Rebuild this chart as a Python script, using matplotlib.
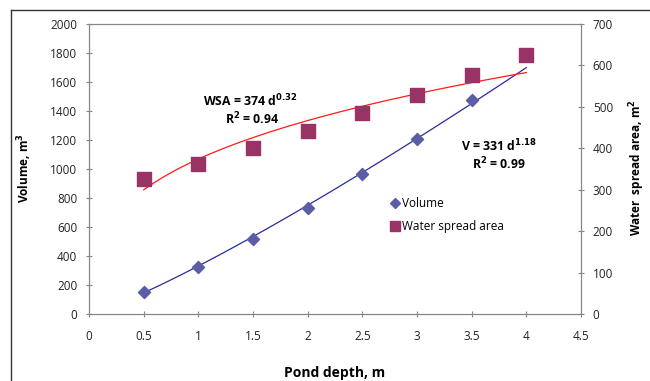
import numpy as np
import matplotlib
matplotlib.use('Agg')
import matplotlib.pyplot as plt
from matplotlib.lines import Line2D

depth_v = [0.5, 1, 1.5, 2, 2.5, 3, 3.5]
volume = [150, 322, 518, 730, 965, 1205, 1478]
depth_w = [0.5, 1, 1.5, 2, 2.5, 3, 3.5, 4]
wsa = [326, 362, 401, 442, 485, 529, 577, 625]

# fitted power curves shown on the chart
v_coef, v_exp = 331, 1.18
w_coef, w_exp = 374, 0.32

plt.rcParams['font.family'] = ['Open Sans', 'DejaVu Sans']
grey = '#868686'

fig = plt.figure(figsize=(6.5, 3.81), dpi=100)
ax = fig.add_axes([89/650, 67/381, 492/650, 290/381])
ax2 = ax.twinx()

d = np.linspace(0.5, 4, 100)
ax.plot(d, v_coef * d**v_exp, color='#2b2b9c', lw=0.9, zorder=2)
ax.scatter(depth_v, volume, marker='D', s=38, color='#5b5ea6', zorder=3)
ax2.plot(d, w_coef * d**w_exp, color='#ff1a1a', lw=0.9, zorder=2)
ax2.scatter(depth_w, wsa, marker='s', s=95, color='#993366', zorder=3)

ax.set_xlim(0, 4.5)
ax.set_ylim(0, 2000)
ax2.set_ylim(0, 700)
ax.set_xticks(np.arange(0, 4.51, 0.5))
ax.set_xticklabels(['0', '0.5', '1', '1.5', '2', '2.5', '3', '3.5', '4', '4.5'])
ax.set_yticks(range(0, 2001, 200))
ax2.set_yticks(range(0, 701, 100))

for a in (ax, ax2):
    for s in a.spines.values():
        s.set_color(grey)
    a.tick_params(direction='inout', length=5, color=grey, labelsize=8.5, labelcolor='#222222')
ax.tick_params(axis='x', pad=9)
ax.tick_params(axis='y', pad=6)
ax2.tick_params(axis='y', pad=6)

fig.text(25/650, 1 - 168/381, 'Volume, m$^{\\mathbf{3}}$', rotation=90, ha='center', va='center',
         fontsize=8.5, fontweight='bold')
fig.text(637/650, 1 - 168/381, 'Water  spread area, m$^{\\mathbf{2}}$', rotation=90, ha='center', va='center',
         fontsize=8.5, fontweight='bold')
fig.text(335/650, 1 - 373/381, 'Pond depth, m', ha='center', va='center', fontsize=10, fontweight='bold')

fig.text(250/650, 1 - 101/381, 'WSA = 374 d$^{\\mathbf{0.32}}$', ha='center', va='center', fontsize=8.8, fontweight='bold')
fig.text(252/650, 1 - 119/381, 'R$^{\\mathbf{2}}$ = 0.94', ha='center', va='center', fontsize=8.8, fontweight='bold')
fig.text(499/650, 1 - 146/381, 'V = 331 d$^{\\mathbf{1.18}}$', ha='center', va='center', fontsize=8.8, fontweight='bold')
fig.text(499/650, 1 - 164/381, 'R$^{\\mathbf{2}}$ = 0.99', ha='center', va='center', fontsize=8.8, fontweight='bold')

handles = [Line2D([], [], ls='none', marker='D', ms=5.5, color='#5b5ea6'),
           Line2D([], [], ls='none', marker='s', ms=7.5, color='#993366')]
fig.legend(handles, ['Volume', 'Water spread area'], loc='upper left', bbox_to_anchor=(386/650, 1 - 192/381),
           frameon=False, fontsize=8.5, handletextpad=0.15, labelspacing=0.85, handlelength=0.8, borderaxespad=0)

# outer chart frame (cropped)
fig.add_artist(Line2D([11/650, 11/650], [-0.1, 1 - 10/381], color='#333333', lw=1, transform=fig.transFigure))
fig.add_artist(Line2D([11/650, 1.1], [1 - 10/381, 1 - 10/381], color='#333333', lw=1, transform=fig.transFigure))

fig.savefig('out.png', dpi=100)
